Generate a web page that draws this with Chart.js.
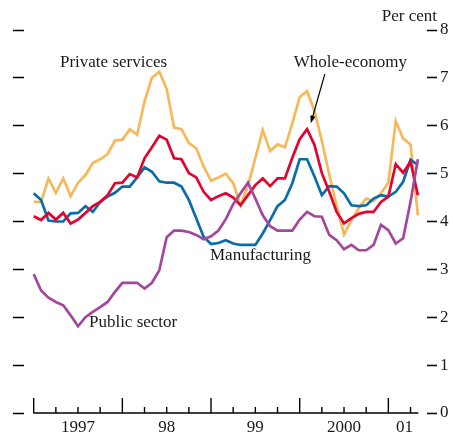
<!DOCTYPE html>
<html>
<head>
<meta charset="utf-8">
<script src="https://cdn.jsdelivr.net/npm/chart.js@4/dist/chart.umd.min.js"></script>
<style>
  html, body { margin: 0; padding: 0; background: #fff; }
  #wrap { width: 453px; height: 432px; position: relative; }
</style>
</head>
<body>
<div id="wrap"><canvas id="c"></canvas></div>
<script>
// Monthly observations, Jan 1997 .. May 2001
const months = ['Jan 97','Feb 97','Mar 97','Apr 97','May 97','Jun 97','Jul 97','Aug 97','Sep 97','Oct 97','Nov 97','Dec 97',
  'Jan 98','Feb 98','Mar 98','Apr 98','May 98','Jun 98','Jul 98','Aug 98','Sep 98','Oct 98','Nov 98','Dec 98',
  'Jan 99','Feb 99','Mar 99','Apr 99','May 99','Jun 99','Jul 99','Aug 99','Sep 99','Oct 99','Nov 99','Dec 99',
  'Jan 00','Feb 00','Mar 00','Apr 00','May 00','Jun 00','Jul 00','Aug 00','Sep 00','Oct 00','Nov 00','Dec 00',
  'Jan 01','Feb 01','Mar 01','Apr 01','May 01'];

const privateServices = [4.41,4.41,4.90,4.60,4.90,4.53,4.81,4.97,5.22,5.30,5.41,5.69,
  5.71,5.93,5.81,6.51,7.00,7.13,6.77,5.96,5.93,5.64,5.53,5.15,
  4.85,4.92,5.00,4.80,4.34,4.75,5.33,5.91,5.47,5.61,5.55,6.05,
  6.60,6.72,6.31,5.68,4.98,4.33,3.73,4.03,4.28,4.48,4.43,4.59,
  4.81,6.10,5.73,5.61,4.13];

const wholeEconomy = [4.11,4.03,4.18,4.04,4.18,3.96,4.04,4.18,4.32,4.41,4.55,4.80,
  4.81,4.99,4.92,5.32,5.55,5.79,5.71,5.32,5.30,5.01,4.92,4.62,
  4.45,4.53,4.59,4.50,4.34,4.55,4.76,4.90,4.74,4.90,4.90,5.33,
  5.72,5.93,5.60,5.01,4.62,4.20,3.96,4.07,4.16,4.20,4.20,4.41,
  4.52,5.20,5.02,5.25,4.55];

const manufacturing = [4.59,4.45,4.02,4.00,4.00,4.17,4.18,4.32,4.20,4.41,4.52,4.60,
  4.73,4.73,4.92,5.13,5.04,4.84,4.81,4.81,4.73,4.45,4.07,3.68,
  3.53,3.55,3.61,3.54,3.51,3.51,3.51,3.75,4.03,4.32,4.45,4.80,
  5.30,5.30,4.94,4.55,4.74,4.73,4.59,4.34,4.32,4.34,4.48,4.55,
  4.52,4.62,4.83,5.29,5.18];

const publicSector = [2.90,2.56,2.41,2.32,2.25,2.04,1.81,2.00,2.11,2.21,2.32,2.53,
  2.72,2.72,2.72,2.60,2.72,2.98,3.67,3.81,3.81,3.78,3.72,3.63,
  3.69,3.81,4.05,4.36,4.59,4.81,4.48,4.13,3.90,3.81,3.81,3.81,
  4.04,4.20,4.11,4.10,3.72,3.61,3.42,3.51,3.40,3.40,3.51,3.93,
  3.82,3.54,3.65,4.41,5.30];

const yearLabels = ['1997','98','99','2000','01'];
const yearLabelPos = [6, 18, 30, 42, 50.2];   // months from Jan 1997
const yTicks = [0,1,2,3,4,5,6,7,8];

const FONT = '"Liberation Serif", "DejaVu Serif", serif';

function series(vals) { return vals.map((v, i) => ({ x: i, y: v })); }

const overlay = {
  id: 'overlay',
  afterDatasetsDraw(chart) {
    const ctx = chart.ctx;
    const xs = chart.scales.x, ys = chart.scales.y;
    const X = v => xs.getPixelForValue(v), Y = v => ys.getPixelForValue(v);
    ctx.save();
    // x axis line and upward ticks
    ctx.strokeStyle = '#000';
    ctx.lineWidth = 1.4;
    const y0 = Y(0);
    ctx.beginPath();
    ctx.moveTo(X(-0.05), y0);
    ctx.lineTo(X(months.length - 1 + 0.05), y0);
    ctx.stroke();
    for (let m = 0; m < months.length; m += 3) {
      const len = (m % 12 === 0) ? 15 : 6;
      ctx.beginPath();
      ctx.moveTo(X(m), y0);
      ctx.lineTo(X(m), y0 - len);
      ctx.stroke();
    }
    // texts
    ctx.fillStyle = '#1a1a1a';
    ctx.font = '17px ' + FONT;
    ctx.textBaseline = 'middle';
    ctx.textAlign = 'left';
    ctx.fillText('Private services', X(3.56), Y(7.33));
    ctx.fillText('Whole-economy', X(35.2), Y(7.33));
    ctx.fillText('Manufacturing', X(23.86), Y(3.28));
    ctx.fillText('Public sector', X(7.48), Y(1.88));
    ctx.textAlign = 'right';
    ctx.fillText('Per cent', chart.chartArea.right + 10, Y(8.29));
    // arrow
    const ax1 = X(39.4), ay1 = Y(7.08), ax2 = X(37.5), ay2 = Y(6.05);
    ctx.strokeStyle = '#000';
    ctx.lineWidth = 1.2;
    const ang = Math.atan2(ay2 - ay1, ax2 - ax1);
    const hl = 8;
    ctx.beginPath();
    ctx.moveTo(ax1, ay1);
    ctx.lineTo(ax2 - Math.cos(ang) * hl * 0.6, ay2 - Math.sin(ang) * hl * 0.6);
    ctx.stroke();
    ctx.fillStyle = '#000';
    ctx.beginPath();
    ctx.moveTo(ax2, ay2);
    ctx.lineTo(ax2 - hl * Math.cos(ang - 0.33), ay2 - hl * Math.sin(ang - 0.33));
    ctx.lineTo(ax2 - hl * Math.cos(ang + 0.33), ay2 - hl * Math.sin(ang + 0.33));
    ctx.closePath();
    ctx.fill();
    ctx.restore();
  }
};

const ds = (label, vals, color) => ({
  label, data: series(vals), borderColor: color, backgroundColor: color,
  borderWidth: 2.7, pointRadius: 0, tension: 0, fill: false
});

new Chart(document.getElementById('c'), {
  type: 'line',
  data: {
    datasets: [
      ds('Public sector', publicSector, '#A2479B'),
      ds('Whole-economy', wholeEconomy, '#E4032E'),
      ds('Manufacturing', manufacturing, '#0A6CAA'),
      ds('Private services', privateServices, '#F7B85A')
    ]
  },
  options: {
    responsive: true,
    maintainAspectRatio: false,
    animation: false,
    devicePixelRatio: 1,
    layout: { padding: { top: 30, left: 0, right: 0, bottom: 0 } },
    plugins: { legend: { display: false }, tooltip: { enabled: false } },
    scales: {
      x: {
        type: 'linear',
        min: -1.31,
        max: 53.23,
        grid: { display: false },
        border: { display: false },
        afterBuildTicks: s => { s.ticks = yearLabelPos.map(v => ({ value: v })); },
        afterFit: s => { s.height = 19; },
        ticks: {
          autoSkip: false, maxRotation: 0, padding: -4,
          color: '#1a1a1a',
          font: { family: FONT, size: 17 },
          callback: (v, i) => yearLabels[i]
        }
      },
      y: {
        position: 'left',
        min: 0, max: 8,
        afterBuildTicks: s => { s.ticks = yTicks.map(v => ({ value: v })); },
        afterFit: s => { s.width = 24; },
        grid: { display: true, drawOnChartArea: false, drawTicks: true, tickLength: 11, tickColor: '#000', tickWidth: 1.5 },
        border: { display: false },
        ticks: { display: false }
      },
      y2: {
        position: 'right',
        display: true,
        min: 0, max: 8,
        afterBuildTicks: s => { s.ticks = yTicks.map(v => ({ value: v })); },
        afterFit: s => { s.width = 26; },
        grid: { display: true, drawOnChartArea: false, drawTicks: true, tickLength: 10, tickColor: '#000', tickWidth: 1.5 },
        border: { display: false },
        ticks: { padding: 3, color: '#1a1a1a', font: { family: FONT, size: 17 } }
      }
    }
  },
  plugins: [overlay]
});
</script>
</body>
</html>
